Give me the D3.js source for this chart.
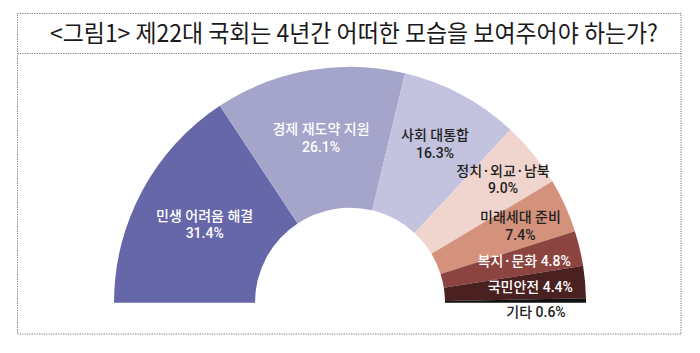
<!DOCTYPE html>
<html><head><meta charset="utf-8">
<script src="https://cdn.jsdelivr.net/npm/d3@7"></script>
<style>
html,body{margin:0;padding:0;background:#fff;}
svg{display:block;}
</style></head>
<body><svg id="c" width="700" height="353"></svg>
<script>
// ---- data ----
const categories = ["민생 어려움 해결","경제 재도약 지원","사회 대통합","정치·외교·남북","미래세대 준비","복지·문화","국민안전","기타"];
const values = [31.4, 26.1, 16.3, 9.0, 7.4, 4.8, 4.4, 0.6];
const title = "<그림1> 제22대 국회는 4년간 어떠한 모습을 보여주어야 하는가?";

// ---- style / layout ----
const colors = ["#6667a9","#a5a5cb","#c3c3df","#efd5cd","#d4917b","#8c4440","#4a2020","#111111"];
const textColors = ["#fff","#fff","#222","#222","#222","#fff","#fff","#222"];
const twoLine = [true,true,true,true,true,false,false,false];
const labelR = [165,167,180,197,187,179,181,186];
const labelDy = [0,0,0,1,0,0,0,11];

const svg = d3.select("#c");
const cx = 350, cy = 302.7, R = 236, r0 = 95;
const font = "'Noto Sans CJK KR','Noto Sans',sans-serif";
const labelFont = "Roboto,'Noto Sans CJK KR',sans-serif";

// frame
const frame = svg.append("g").attr("fill","none").attr("stroke","#777").attr("stroke-width",1).attr("stroke-dasharray","1.2,1.2");
frame.append("rect").attr("x",17.5).attr("y",13.5).attr("width",663.5).attr("height",320.5);
frame.append("line").attr("x1",17.5).attr("x2",681).attr("y1",53.5).attr("y2",53.5);

// title
svg.append("text").attr("x",50).attr("y",42).attr("font-family",font).attr("font-size",24)
  .attr("fill","#1a1a1a").attr("textLength",608).attr("lengthAdjust","spacingAndGlyphs")
  .text(title);

// pie
const pie = d3.pie().sort(null).startAngle(-Math.PI/2).endAngle(Math.PI/2);
const arcs = pie(values);
const arc = d3.arc().innerRadius(r0).outerRadius(R);
const g = svg.append("g").attr("transform",`translate(${cx},${cy})`);
g.selectAll("path").data(arcs).enter().append("path")
  .attr("d",arc).attr("fill",(d,i)=>colors[i]);

// labels
const fmt = d3.format(".1f");
arcs.forEach((d,i)=>{
  const a = (d.startAngle+d.endAngle)/2;
  const x = labelR[i]*Math.sin(a), y = -labelR[i]*Math.cos(a) + labelDy[i];
  const mk = (yy, s) => {
    const t = g.append("text").attr("font-family",labelFont).attr("font-size",14).attr("font-weight",500)
      .attr("fill",textColors[i]).attr("text-anchor","middle").attr("x",x).attr("y",yy);
    const parts = s.split("·");
    parts.forEach((p,k)=>{
      if (k>0) t.append("tspan").attr("font-family","'Noto Sans CJK KR'").text("·");
      t.append("tspan").text(p);
    });
  };
  if (twoLine[i]) {
    mk(y-8.8+5, categories[i]);
    mk(y+8.8+5, fmt(values[i])+"%");
  } else {
    mk(y+5, categories[i]+" "+fmt(values[i])+"%");
  }
});
</script></body></html>
